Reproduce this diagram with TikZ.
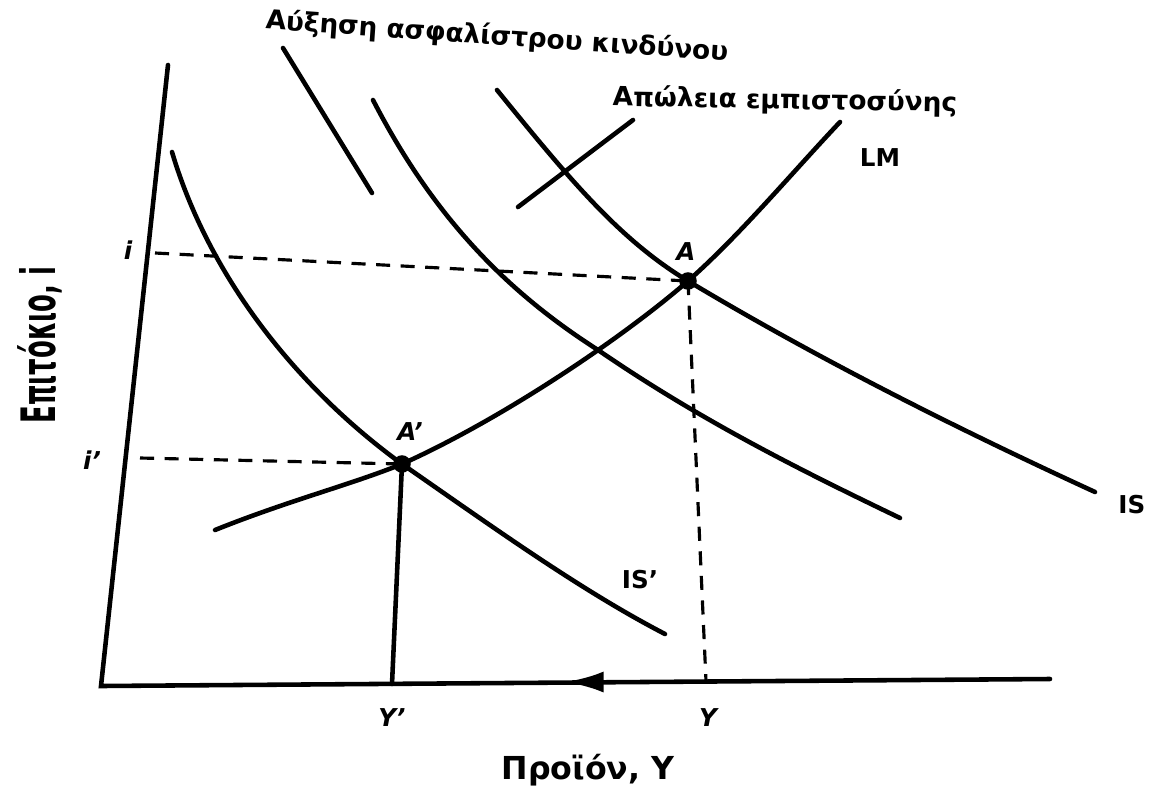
\documentclass[tikz,border=0pt]{standalone}
\usepackage{fontspec}
\setmainfont{DejaVu Sans}
\usetikzlibrary{arrows.meta}
\begin{document}
\begin{tikzpicture}[x=0.02cm,y=-0.02cm,
  curve/.style={line width=2.6pt,line cap=round},
  axisline/.style={line width=2.6pt,line cap=round},
  guide/.style={line width=1.8pt,dash pattern=on 8pt off 6pt},
  lbl/.style={font=\bfseries\fontsize{14}{16}\selectfont,inner sep=0pt},
  ilbl/.style={lbl,font=\bfseries\itshape\fontsize{14}{16}\selectfont},
  dot/.style={circle,fill=black,inner sep=0pt,minimum size=10pt}]
\useasboundingbox (0,0) rectangle (1152,791);
% points
\coordinate (O) at (101,686);
\coordinate (Ytop) at (168,65);
\coordinate (Xend) at (1050,679);
\node[dot] (A) at (688,281) {};
\node[dot] (Ap) at (402,464) {};
\coordinate (i) at (155,253);
\coordinate (ip) at (140,458);
\coordinate (Y) at (706,681);
\coordinate (Yp) at (392,684);
% axes
\draw[axisline] (Ytop) -- (O) -- (Xend);
\draw[-{Latex[length=22pt,width=12pt]},line width=2.6pt] (600,682) -- (565,682);
% guides
\draw[guide] (i) -- (A.center);
\draw[guide] (ip) -- (Ap.center);
\draw[guide] (A.center) -- (Y);
\draw[axisline] (Ap.center) -- (Yp);
% IS'
\draw[curve] (172,152) .. controls (210,280) and (300,390) .. (Ap.center)
  .. controls (490,525) and (580,590) .. (665,634);
% middle IS
\draw[curve] (373,100) .. controls (440,230) and (520,300) .. (598,350)
  .. controls (700,420) and (800,470) .. (900,518);
% IS
\draw[curve] (497,90) .. controls (570,180) and (620,240) .. (A.center)
  .. controls (820,360) and (960,430) .. (1095,492);
% LM
\draw[curve] (215,530) .. controls (290,500) and (350,485) .. (Ap.center)
  .. controls (500,420) and (620,340) .. (A.center)
  .. controls (740,235) and (790,175) .. (840,122);
% pointers
\draw[curve] (283,48) -- (372,193);
\draw[curve] (633,120) -- (518,207);
% labels
\node[lbl,font=\bfseries\fontsize{15}{17}\selectfont,rotate=-4] (t1) at (497,37) {Αύξηση ασφαλίστρου κινδύνου};
\node[lbl,font=\bfseries\fontsize{15}{17}\selectfont,rotate=-1] (t2) at (785,101) {Απώλεια εμπιστοσύνης};
\node[lbl] (lm) at (880,158) {LM};
\node[lbl,anchor=west] (is) at (1118,505) {IS};
\node[lbl] (isp) at (640,580) {IS'};
\node[ilbl] (la) at (686,252) {A};
\node[ilbl] (lap) at (410,432) {A'};
\node[ilbl] (li) at (128,250) {i};
\node[ilbl] (lip) at (92,460) {i'};
\node[ilbl] (lY) at (708,718) {Y};
\node[ilbl] (lYp) at (392,718) {Y'};
\node[lbl,font=\bfseries\fontsize{18}{20}\selectfont] (xl) at (588,770) {Προϊόν, Y};
\node[lbl,font=\bfseries\fontsize{18}{20}\selectfont,rotate=90] (yl) at (40,345) {\scalebox{0.82}[1.5]{Επιτόκιο, i}};
\end{tikzpicture}
\end{document}
